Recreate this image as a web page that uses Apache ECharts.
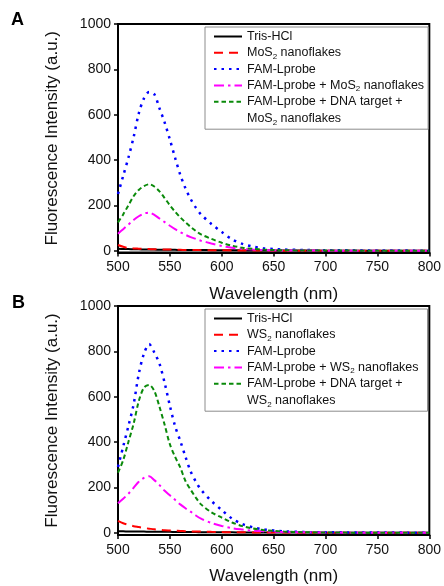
<!DOCTYPE html>
<html><head><meta charset="utf-8">
<script src="https://cdn.jsdelivr.net/npm/echarts@6/dist/echarts.min.js"></script>
<style>html,body{margin:0;padding:0;background:#fff}#c{width:444px;height:586px}</style>
</head><body><div id="c"></div>
<script>
const wavelengths = [500,505,510,515,520,525,530,535,540,545,550,555,560,565,570,575,580,590,600,610,620,630,640,650,660,680,700,750,800];
// Panel A (MoS2)
const trisA      = [8,7,7,6,6,5,5,5,4,4,4,4,3,3,3,3,3,2,2,2,1,1,1,1,1,1,0,0,0];
const mos2       = [25,17,12,10,9,8,7,6,6,5,5,4,4,3,3,3,2,2,2,1,1,1,1,1,0,0,0,0,0];
const famA       = [250,330,410,500,605,672,700,690,628,565,490,410,335,275,228,190,160,118,82,50,30,18,11,7,5,3,2,1,0];
const famMos2    = [75,95,115,135,152,164,168,158,142,126,110,95,82,70,60,52,44,32,21,13,8,5,3,2,1,1,0,0,0];
const famDnaMos2 = [125,160,200,240,268,285,293,283,262,232,200,172,147,125,105,87,72,52,35,22,13,8,5,3,2,1,1,0,0];
// Panel B (WS2)
const trisB      = [6,6,5,5,5,5,4,4,4,4,4,3,3,3,3,3,2,2,2,2,1,1,1,1,1,1,0,0,0];
const ws2        = [52,42,35,29,25,21,18,15,13,11,10,9,8,7,6,5,5,4,3,2,2,1,1,1,1,0,0,0,0];
const famB       = [290,380,470,565,700,790,832,795,745,660,560,470,405,335,270,225,190,140,100,62,38,24,15,10,6,3,2,1,0];
const famWs2     = [130,150,172,198,225,242,249,232,210,185,165,145,125,108,93,76,62,43,30,20,14,9,6,4,3,2,1,0,0];
const famDnaWs2  = [265,320,400,480,580,640,652,625,555,475,390,335,288,228,190,155,125,90,67,45,29,19,12,8,5,2,1,0,0];

const yTickValues = [0,200,400,600,800,1000];
const xTickValues = [500,550,600,650,700,750,800];
const namesA = ['Tris-HCl','MoS2 nanoflakes','FAM-Lprobe','FAM-Lprobe + MoS2 nanoflakes','FAM-Lprobe + DNA target + MoS2 nanoflakes'];
const namesB = ['Tris-HCl','WS2 nanoflakes','FAM-Lprobe','FAM-Lprobe + WS2 nanoflakes','FAM-Lprobe + DNA target + WS2 nanoflakes'];

const FONT = "'Liberation Sans', Arial, sans-serif";
const styles = [
  {color:'#000000', type:'solid', width:2},
  {color:'#ff0000', type:[9,6], width:2},
  {color:'#0000ff', type:[2.5,5], width:2.5},
  {color:'#ff00ff', type:[10,4,2.5,4], width:2},
  {color:'#0a8a0a', type:[4.5,3], width:2}
];
const RICH = {
  t:{fontSize:12.5, lineHeight:15, fontFamily:FONT, color:'#111'},
  s:{fontSize:8, lineHeight:15, padding:[7,0,0,0], fontFamily:FONT, color:'#111'}
};

function richLine(s){
  const parts = s.split(/(MoS2|WS2)/);
  return parts.filter(p=>p.length).map(p=>{
    if (p === 'MoS2' || p === 'WS2') return '{t|' + p.slice(0,-1) + '}{s|2}';
    return '{t|' + p + '}';
  }).join('');
}
const SPLIT = 'DNA target + ';
function legendText(name){
  const k = name.indexOf(SPLIT);
  if (k >= 0) return richLine(name.slice(0, k) + 'DNA target +');
  return richLine(name);
}
function secondLine(name){
  const k = name.indexOf(SPLIT);
  return richLine(name.slice(k + SPLIT.length));
}

function mkXAxis(idx){
  return {type:'value', gridIndex:idx, min:500, max:800, interval:50,
    name:'Wavelength (nm)', nameLocation:'middle', nameGap:33,
    nameTextStyle:{fontSize:17, color:'#111', fontFamily:FONT},
    axisLine:{show:true, onZero:false, lineStyle:{color:'#000', width:2}},
    axisTick:{show:true, inside:false, length:4, lineStyle:{color:'#000', width:1.5}},
    axisLabel:{fontSize:14, color:'#111', margin:8, fontFamily:FONT, formatter:v=>String(v)},
    splitLine:{show:false}};
}
function mkYAxis(idx, mn){
  return {type:'value', gridIndex:idx, min:mn, max:1000,
    name:'Fluorescence Intensity (a.u.)', nameLocation:'middle', nameGap:57,
    nameTextStyle:{fontSize:17, color:'#111', fontFamily:FONT},
    axisLine:{show:true, onZero:false, lineStyle:{color:'#000', width:2}},
    axisTick:{show:true, inside:false, length:4, customValues:yTickValues, lineStyle:{color:'#000', width:1.5}},
    axisLabel:{fontSize:14, color:'#111', margin:7, customValues:yTickValues, fontFamily:FONT, formatter:v=>String(v)},
    splitLine:{show:false}};
}
const LEG_LEFT = 205, LEG_PAD_L = 8, LEG_ICON_W = 28;
function mkLegend(names, top, padR){
  return {data:names, orient:'vertical', left:LEG_LEFT, top:top, selectedMode:false,
    itemWidth:LEG_ICON_W, itemHeight:14, itemGap:2.3, padding:[3,padR,21,LEG_PAD_L],
    borderColor:'#8c8c8c', borderWidth:1, backgroundColor:'#fff',
    itemStyle:{opacity:0},
    formatter:legendText,
    textStyle:{fontFamily:FONT, color:'#111', rich:RICH}};
}
function mkSecondLine(names, top){
  return {type:'text', z:100, x: LEG_LEFT + LEG_PAD_L + LEG_ICON_W + 6, y: top + 92,
    style:{text: secondLine(names[4]), rich:RICH, verticalAlign:'middle', align:'left',
      fontFamily:FONT, fontSize:12.5, fill:'#111'}};
}
function mkSeries(names, arrays, idx){
  return arrays.map((arr,i)=>({
    name:names[i], type:'line', xAxisIndex:idx, yAxisIndex:idx,
    data: wavelengths.map((w,j)=>[w, arr[j]]),
    symbol:'none', showSymbol:false, smooth:0.3, lineStyle:styles[i], itemStyle:{color:styles[i].color},
    emphasis:{disabled:true}, z: 2+i
  }));
}

const chart = echarts.init(document.getElementById('c'), null, {renderer:'canvas'});
chart.setOption({
  animation:false,
  backgroundColor:'#fff',
  title:[
    {text:'A', left:11, top:11, padding:0, textStyle:{fontSize:18, fontWeight:'bold', color:'#000', fontFamily:FONT}},
    {text:'B', left:12, top:294, padding:0, textStyle:{fontSize:18, fontWeight:'bold', color:'#000', fontFamily:FONT}}
  ],
  grid:[
    {left:118, top:24, width:313, height:228.5, show:true, borderColor:'#000', borderWidth:2, backgroundColor:'transparent'},
    {left:118, top:306, width:313, height:230, show:true, borderColor:'#000', borderWidth:2, backgroundColor:'transparent'}
  ],
  xAxis:[mkXAxis(0), mkXAxis(1)],
  yAxis:[mkYAxis(0,-8), mkYAxis(1,-10)],
  legend:[mkLegend(namesA, 27, 4), mkLegend(namesB, 309, 9)],
  graphic:[mkSecondLine(namesA, 27), mkSecondLine(namesB, 309)],
  series:[].concat(
    mkSeries(namesA, [trisA, mos2, famA, famMos2, famDnaMos2], 0),
    mkSeries(namesB, [trisB, ws2, famB, famWs2, famDnaWs2], 1)
  )
});
</script></body></html>
